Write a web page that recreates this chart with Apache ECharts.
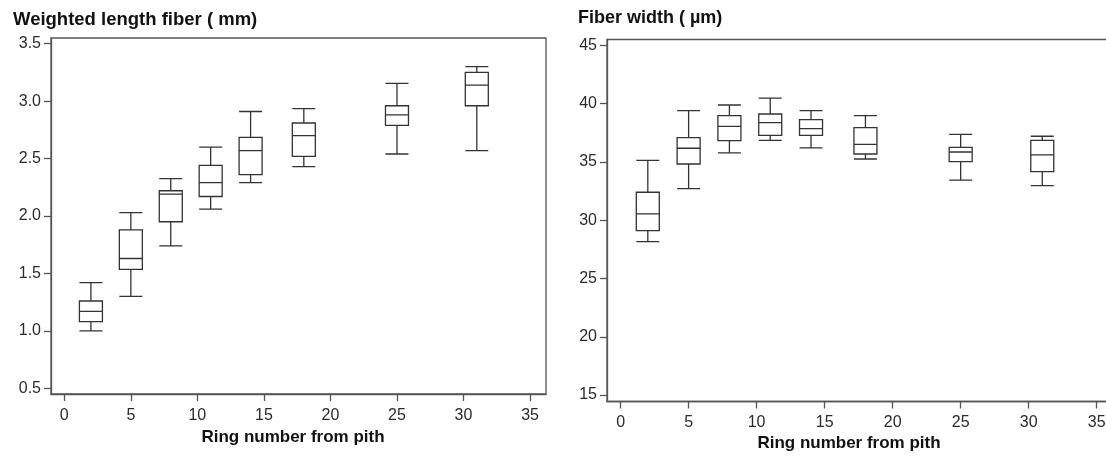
<!DOCTYPE html>
<html>
<head>
<meta charset="utf-8">
<script src="https://cdn.jsdelivr.net/npm/echarts@6/dist/echarts.min.js"></script>
<style>
  html, body { margin: 0; padding: 0; background: #fff; overflow: hidden; }
  /* the right panel runs past the window edge, so the canvas is a bit wider than the view */
  #main { width: 1120px; height: 461px; }
</style>
</head>
<body>
<div id="main"></div>
<script>
// Ring positions (number of rings counted from the pith)
const ringPositions = [2, 5, 8, 11, 14, 18, 25, 31];

// Weighted fiber length (mm): five-number summary per ring
const lengthMin    = [1.00, 1.30, 1.74, 2.06, 2.29, 2.43, 2.54, 2.57];
const lengthQ1     = [1.08, 1.535, 1.95, 2.17, 2.36, 2.52, 2.79, 2.96];
const lengthMedian = [1.17, 1.63, 2.19, 2.29, 2.57, 2.70, 2.88, 3.14];
const lengthQ3     = [1.26, 1.88, 2.22, 2.44, 2.685, 2.81, 2.96, 3.25];
const lengthMax    = [1.42, 2.03, 2.325, 2.60, 2.91, 2.935, 3.155, 3.30];

// Fiber width (µm): five-number summary per ring
const widthMin    = [28.17, 32.71, 35.77, 36.85, 36.20, 35.25, 33.43, 32.97];
const widthQ1     = [29.11, 34.82, 36.83, 37.28, 37.28, 35.68, 35.03, 34.17];
const widthMedian = [30.54, 36.17, 38.05, 38.37, 37.86, 36.51, 35.85, 35.60];
const widthQ3     = [32.40, 37.09, 38.97, 39.11, 38.63, 37.94, 36.25, 36.85];
const widthMax    = [35.14, 39.40, 39.88, 40.48, 39.40, 38.97, 37.37, 37.20];

// Tick values
const ringTicks   = [0, 5, 10, 15, 20, 25, 30, 35];
const lengthTicks = [0.5, 1.0, 1.5, 2.0, 2.5, 3.0, 3.5];
const widthTicks  = [15, 20, 25, 30, 35, 40, 45];

const FONT = '"Liberation Sans", Arial, sans-serif';
const INK = '#2b2b2b';
const FRAME = '#555';

function boxRows(mins, q1s, meds, q3s, maxs) {
  return ringPositions.map((x, i) => [x, mins[i], q1s[i], meds[i], q3s[i], maxs[i]]);
}

function xAxisFor(gridIndex, labelMargin) {
  return {
    type: 'value', gridIndex, min: -1, max: 36.2,
    axisLine: { show: true, onZero: false, lineStyle: { color: FRAME, width: 1.3 } },
    axisTick: { show: true, length: 7, customValues: ringTicks, lineStyle: { color: FRAME, width: 1.3 } },
    axisLabel: { customValues: ringTicks, margin: labelMargin, color: INK, fontSize: 16, fontFamily: FONT },
    splitLine: { show: false }
  };
}

function yAxisFor(gridIndex, min, max, ticks, digits) {
  return {
    type: 'value', gridIndex, min, max,
    axisLine: { show: true, onZero: false, lineStyle: { color: FRAME, width: 1.3 } },
    axisTick: { show: true, length: 7, customValues: ticks, lineStyle: { color: FRAME, width: 1.3 } },
    axisLabel: {
      customValues: ticks, margin: 10, color: INK, fontSize: 16, fontFamily: FONT,
      formatter: v => Number(v).toFixed(digits)
    },
    splitLine: { show: false }
  };
}

function boxSeries(index, rows) {
  return {
    type: 'boxplot',
    xAxisIndex: index, yAxisIndex: index,
    layout: 'horizontal',
    boxWidth: [23, 23],
    data: rows,
    itemStyle: { color: '#fff', borderColor: '#333', borderWidth: 1.3 },
    emphasis: { disabled: true },
    silent: true
  };
}

const chart = echarts.init(document.getElementById('main'), null, { renderer: 'canvas' });
chart.setOption({
  animation: false,
  backgroundColor: '#fff',
  title: [
    { text: 'Weighted length fiber ( mm)', left: 13, top: 10, padding: 0,
      textStyle: { fontSize: 18.5, fontWeight: 'bold', color: '#111', fontFamily: FONT } },
    { text: 'Fiber width ( µm)', left: 578, top: 9, padding: 0,
      textStyle: { fontSize: 18, fontWeight: 'bold', color: '#111', fontFamily: FONT } }
  ],
  grid: [
    { left: 51, top: 38, width: 495, height: 356, show: true, borderColor: FRAME, borderWidth: 1.3, containLabel: false },
    { left: 607, top: 39.5, width: 506, height: 362, show: true, borderColor: FRAME, borderWidth: 1.3, containLabel: false }
  ],
  xAxis: [xAxisFor(0, 14), xAxisFor(1, 13)],
  yAxis: [
    yAxisFor(0, 0.45, 3.55, lengthTicks, 1),
    yAxisFor(1, 14.45, 45.5, widthTicks, 0)
  ],
  graphic: [
    { type: 'text', x: 293, y: 437, style: { text: 'Ring number from pith', fill: '#111', font: 'bold 17px ' + FONT, align: 'center', verticalAlign: 'middle' } },
    { type: 'text', x: 849, y: 443, style: { text: 'Ring number from pith', fill: '#111', font: 'bold 17px ' + FONT, align: 'center', verticalAlign: 'middle' } }
  ],
  series: [
    boxSeries(0, boxRows(lengthMin, lengthQ1, lengthMedian, lengthQ3, lengthMax)),
    boxSeries(1, boxRows(widthMin, widthQ1, widthMedian, widthQ3, widthMax))
  ]
});
</script>
</body>
</html>
